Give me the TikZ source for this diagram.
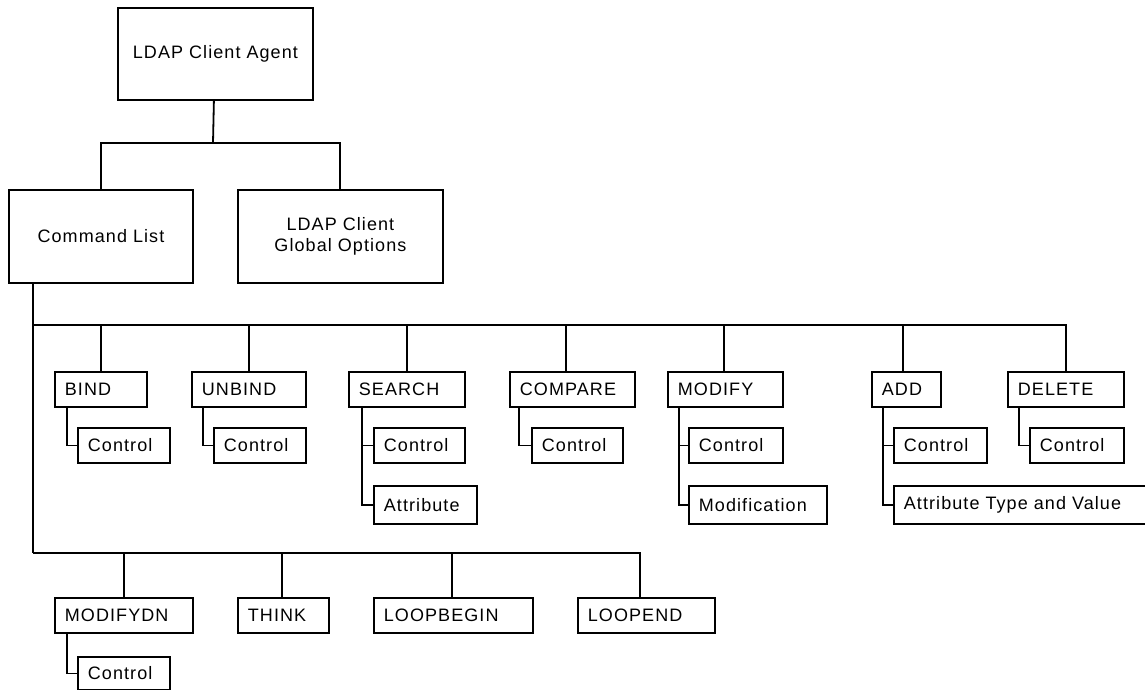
\documentclass[tikz,border=0pt]{standalone}
\usepackage{fontspec}
\setmainfont{Liberation Sans}[LetterSpace=6]
\begin{document}
\begin{tikzpicture}[x=1pt,y=-1pt,
  box/.style={draw, line width=1.8pt, rectangle, anchor=north west, inner xsep=10pt, inner ysep=0pt, align=left, font=\fontsize{18}{21}\selectfont},
  cbox/.style={box, align=center},
  conn/.style={line width=1.8pt}]
\clip (0,0) rectangle (1145,690);
\fill[white] (0,0) rectangle (1145,690);
% top level
\node[cbox, text width=175pt, minimum height=92pt] (agent) at (117,7) {LDAP Client Agent};
\node[cbox, text width=164pt, minimum height=93pt] (cmd) at (8,189) {Command List};
\node[cbox, text width=185pt, minimum height=93pt] (glob) at (237,189) {LDAP Client\\Global Options};
% first row
\node[box, text width=72pt, minimum height=35pt] (bind) at (54,371) {BIND};
\node[box, text width=72pt, minimum height=35pt] (bindc) at (77,427) {Control};
\node[box, text width=94pt, minimum height=35pt] (unbind) at (191,371) {UNBIND};
\node[box, text width=72pt, minimum height=35pt] (unbindc) at (213,427) {Control};
\node[box, text width=96pt, minimum height=35pt] (search) at (348,371) {SEARCH};
\node[box, text width=71pt, minimum height=35pt] (searchc) at (373,427) {Control};
\node[box, text width=83pt, minimum height=38pt] (searcha) at (373,485) {Attribute};
\node[box, text width=105pt, minimum height=35pt] (compare) at (509,371) {COMPARE};
\node[box, text width=71pt, minimum height=35pt] (comparec) at (531,427) {Control};
\node[box, text width=95pt, minimum height=35pt] (modify) at (667,371) {MODIFY};
\node[box, text width=74pt, minimum height=35pt] (modifyc) at (688,427) {Control};
\node[box, text width=118pt, minimum height=38pt] (modifym) at (688,485) {Modification};
\node[box, text width=49pt, minimum height=35pt] (add) at (871,371) {ADD};
\node[box, text width=73pt, minimum height=35pt] (addc) at (893,427) {Control};
\node[box, text width=237pt, minimum height=38pt] (adda) at (893,485) {Attribute Type and Value};
\node[box, text width=96pt, minimum height=35pt] (delete) at (1007,371) {DELETE};
\node[box, text width=74pt, minimum height=35pt] (deletec) at (1029,427) {Control};
% second row
\node[box, text width=118pt, minimum height=35pt] (modifydn) at (54,597) {MODIFYDN};
\node[box, text width=72pt, minimum height=33pt] (modifydnc) at (77,656) {Control};
\node[box, text width=71pt, minimum height=35pt] (think) at (237,597) {THINK};
\node[box, text width=139pt, minimum height=35pt] (loopbegin) at (373,597) {LOOPBEGIN};
\node[box, text width=117pt, minimum height=35pt] (loopend) at (577,597) {LOOPEND};
% junctions
\coordinate (j1) at (213,143);
\coordinate (c1) at (33,282);
\coordinate (busT) at (33,325);
\coordinate (busB) at (33,553);
% top connectors
\draw[conn] ([xshift=-1.5pt]agent.south) -- (j1);
\draw[conn] (cmd.north) |- (j1) -| ([xshift=-0.5pt]glob.north);
\draw[conn] (c1) -- (busB);
\draw[conn] (busT) -| (delete.north);
\draw[conn] (bind.north) -- (bind.north |- busT);
\draw[conn] (unbind.north) -- (unbind.north |- busT);
\draw[conn] (search.north) -- (search.north |- busT);
\draw[conn] ([xshift=-6.5pt]compare.north) -- ([xshift=-6.5pt]compare.north |- busT);
\draw[conn] ([xshift=-1.5pt]modify.north) -- ([xshift=-1.5pt]modify.north |- busT);
\draw[conn] ([xshift=-3.5pt]add.north) -- ([xshift=-3.5pt]add.north |- busT);
% bottom bus
\draw[conn] (busB) -| ([xshift=-6.5pt]loopend.north);
\draw[conn] (modifydn.north) -- (modifydn.north |- busB);
\draw[conn] ([xshift=-1.5pt]think.north) -- ([xshift=-1.5pt]think.north |- busB);
\draw[conn] ([xshift=-1.5pt]loopbegin.north) -- ([xshift=-1.5pt]loopbegin.north |- busB);
% child elbows
\draw[conn] ([xshift=13pt]bind.south west) |- (bindc.west);
\draw[conn] ([xshift=12pt]unbind.south west) |- (unbindc.west);
\draw[conn] ([xshift=14pt]search.south west) |- (searchc.west);
\draw[conn] ([xshift=14pt]search.south west) |- (searcha.west);
\draw[conn] ([xshift=10pt]compare.south west) |- (comparec.west);
\draw[conn] ([xshift=12pt]modify.south west) |- (modifyc.west);
\draw[conn] ([xshift=12pt]modify.south west) |- (modifym.west);
\draw[conn] ([xshift=12pt]add.south west) |- (addc.west);
\draw[conn] ([xshift=12pt]add.south west) |- (adda.west);
\draw[conn] ([xshift=12pt]delete.south west) |- (deletec.west);
\draw[conn] ([xshift=13pt]modifydn.south west) |- (modifydnc.west);
\end{tikzpicture}
\end{document}
